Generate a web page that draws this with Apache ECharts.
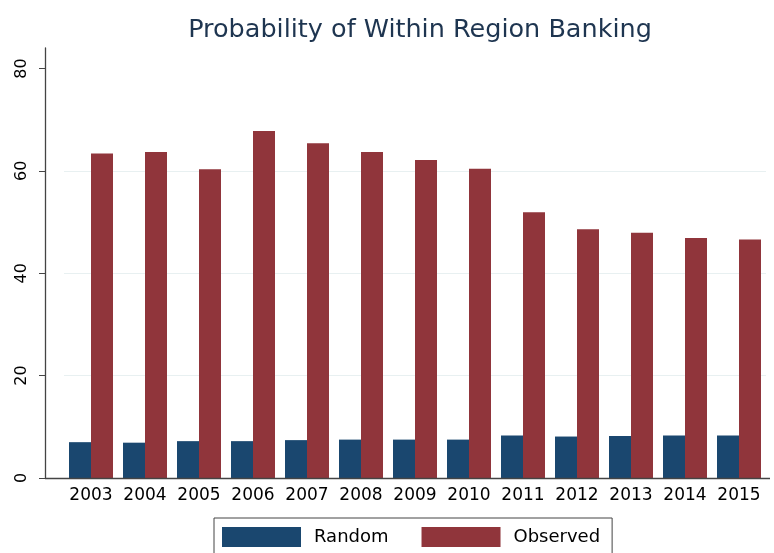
<!DOCTYPE html>
<html><head><meta charset="utf-8">
<script src="https://cdn.jsdelivr.net/npm/echarts@6/dist/echarts.min.js"></script>
<style>html,body{margin:0;padding:0;background:#fff}#c{width:774px;height:553px}</style>
</head><body><div id="c"></div>
<script>
const years = ['2003','2004','2005','2006','2007','2008','2009','2010','2011','2012','2013','2014','2015'];
const randomVals = [7.0, 6.9, 7.2, 7.2, 7.4, 7.5, 7.5, 7.5, 8.3, 8.1, 8.2, 8.3, 8.3];
const observedVals = [63.4, 63.7, 60.3, 67.8, 65.4, 63.7, 62.1, 60.4, 51.9, 48.6, 47.9, 46.9, 46.6];
const yTicks = [0, 20, 40, 60, 80];
const gridVals = [20, 40, 60];

const font = 'DejaVu Sans, Liberation Sans, Arial, sans-serif';
const chart = echarts.init(document.getElementById('c'));
chart.setOption({
  animation: false,
  title: {
    text: 'Probability of Within Region Banking',
    left: 415, top: 12, textAlign: 'center',
    textStyle: { fontFamily: font, fontSize: 25.5, fontWeight: 'normal', color: '#1e3550' }
  },
  legend: {
    data: ['Random', 'Observed'],
    left: 214, top: 518,
    padding: [9, 12, 9, 8],
    borderColor: '#444', borderWidth: 1,
    itemWidth: 79, itemHeight: 20, itemGap: 33,
    icon: 'rect',
    textStyle: { fontFamily: font, fontSize: 18, color: '#000', padding: [0, 0, 0, 8] }
  },
  grid: { left: 64, right: 8, top: 48, bottom: 75 },
  xAxis: {
    type: 'category', data: years,
    axisLine: { show: false },
    axisTick: { show: false },
    axisLabel: { fontFamily: font, fontSize: 17, color: '#000', margin: 9, interval: 0, hideOverlap: false }
  },
  yAxis: {
    type: 'value', min: 0, max: 84, interval: 20, offset: 19,
    axisLine: { show: true, lineStyle: { color: '#444', width: 1.3 } },
    axisTick: { show: true, length: 6, lineStyle: { color: '#444' }, customValues: yTicks },
    axisLabel: { fontFamily: font, fontSize: 16, color: '#000', rotate: 90, margin: 15, customValues: yTicks },
    splitLine: { show: false }
  },
  graphic: [{
    type: 'line', z: 10,
    shape: { x1: 45, y1: 478.5, x2: 770, y2: 478.5 },
    style: { stroke: '#444', lineWidth: 1.3 }
  }],
  series: [
    {
      name: 'Random', type: 'bar', data: randomVals, barWidth: 22, barGap: '0%',
      itemStyle: { color: '#1a476f' },
      markLine: {
        silent: true, symbol: 'none', label: { show: false },
        lineStyle: { color: '#e8f0f1', type: 'solid', width: 1 },
        data: gridVals.map(v => ({ yAxis: v })),
        z: 0
      },
      z: 2
    },
    {
      name: 'Observed', type: 'bar', data: observedVals, barWidth: 22,
      itemStyle: { color: '#90353b' }, z: 2
    }
  ]
});
</script></body></html>
